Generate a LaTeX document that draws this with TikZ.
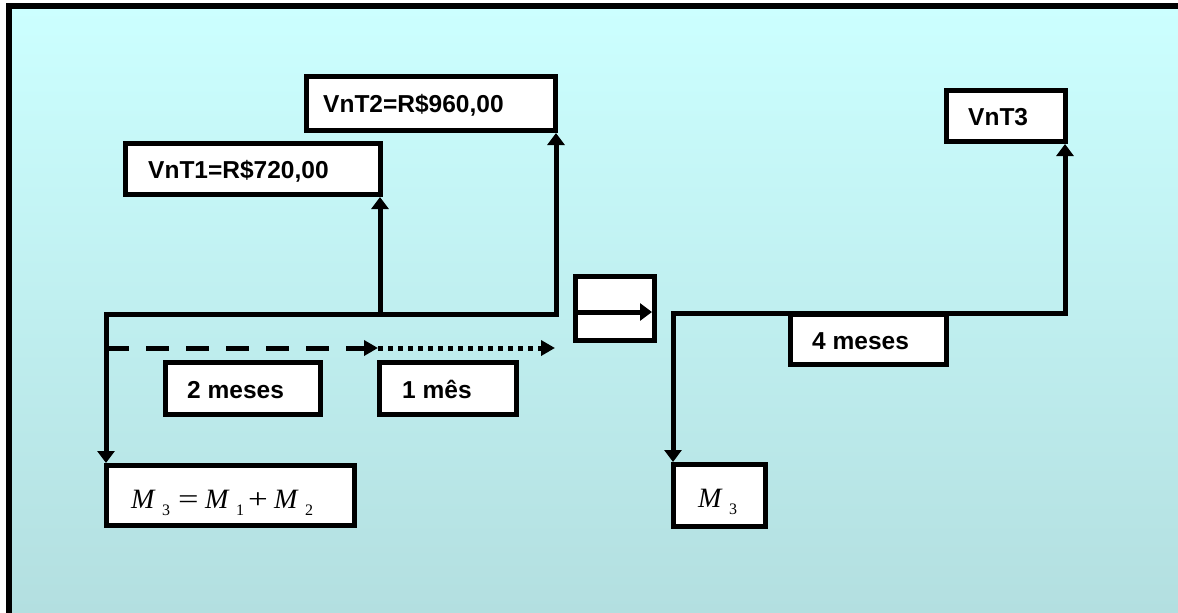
\documentclass[tikz,border=0pt]{standalone}
\usepackage{fontspec}
\setmainfont{Liberation Sans}
\newfontfamily\tms{Liberation Serif}
\usetikzlibrary{arrows.meta}
\definecolor{bgtop}{RGB}{204,255,255}
\definecolor{bgbot}{RGB}{179,223,224}
\newcommand\pc[2]{\makebox[#1][l]{#2}}
\newcommand\sbd[1]{\raisebox{-7pt}{\upshape\fontsize{16}{16}\selectfont #1}}
\begin{document}
\begin{tikzpicture}[x=1pt,y=-1pt,
  box/.style={draw=black,line width=5pt,fill=white,inner sep=0pt},
  lbl/.style={font=\fontsize{24.5}{24.5}\selectfont\bfseries,anchor=base west,inner sep=0pt},
  eqlbl/.style={font=\tms\fontsize{28}{28}\selectfont,anchor=base west,inner sep=0pt},
  conn/.style={line width=5pt},
  tip/.tip={Triangle[length=12pt,width=17pt]},
  arr/.style={conn,-tip},
  darr/.style={line width=5pt,-{Triangle[length=14pt,width=15pt]}}]
\useasboundingbox (0,0) rectangle (1178,613);
\clip (0,0) rectangle (1178,613);
\fill[white] (0,0) rectangle (1178,613);
\shade[top color=bgtop,bottom color=bgbot] (9,6) rectangle (1200,613);
\draw[line width=5.5pt] (9,640) -- (9,6) -- (1200,6);

% boxes
\node[box,minimum width=249pt,minimum height=54pt] (v2) at (431,103.5) {};
\node[box,minimum width=255pt,minimum height=51pt] (v1) at (253,169) {};
\node[box,minimum width=119pt,minimum height=51pt] (v3) at (1006,116) {};
\node[box,minimum width=155pt,minimum height=52pt] (b2m) at (243,388.5) {};
\node[box,minimum width=137pt,minimum height=52pt] (b1m) at (448,388.5) {};
\node[box,minimum width=248pt,minimum height=60pt] (eq) at (230.5,495.5) {};
\node[box,minimum width=92pt,minimum height=62pt] (m3) at (719.5,495.5) {};
\node[box,minimum width=79pt,minimum height=64pt] (mid) at (615,308.5) {};

% labels
\node[lbl] (t2) at (323,112) {VnT2=R\$960,00};
\node[lbl] (t1) at (148,178) {VnT1=R\$720,00};
\node[lbl] (t3) at (968,125) {VnT3};
\node[lbl] (t2m) at (187,398) {2 meses};
\node[lbl] (t1m) at (402,398) {1 mês};
\node[eqlbl] (teq) at (131,508) {\pc{31pt}{\itshape M}\pc{16pt}{\sbd{3}}\pc{27pt}{\scalebox{1.3}[1]{=}}\pc{31pt}{\itshape M}\pc{12pt}{\sbd{1}}\pc{26pt}{\scalebox{1.25}[1]{+}}\pc{31pt}{\itshape M}\sbd{2}};
\node[eqlbl] (tm3) at (698,507) {\pc{31pt}{\itshape M}\sbd{3}};

% left timeline
\coordinate (c1) at (106,314);
\coordinate (c2) at (556,314);
\coordinate (c3) at (380,314);
\draw[conn,tip-tip] (c1 |- eq.north) -- (c1) -- (c2) -- (c2 |- v2.south);
\draw[arr] (c3) -- (c3 |- v1.south);

% dashed and dotted arrows
\coordinate (d0) at (106,348);
\coordinate (d1) at (378,348);
\coordinate (d2) at (555,348);
\draw[darr,dash pattern=on 23pt off 17pt] (d0) -- (d1);
\draw[darr,dash pattern=on 5pt off 5pt] (d1) -- (d2);

% middle arrow
\coordinate (mi) at (575.5,312);
\draw[arr] (mi) -- (652,312);

% right timeline
\coordinate (c4) at (673,313);
\coordinate (c5) at (1065,313);
\draw[conn,tip-tip] (c4 |- m3.north) -- (c4) -- (c5) -- (c5 |- v3.south);
\node[box,minimum width=156pt,minimum height=50pt] (b4m) at (868.5,339.5) {};
\node[lbl] (t4m) at (812,349) {4 meses};
\end{tikzpicture}
\end{document}
